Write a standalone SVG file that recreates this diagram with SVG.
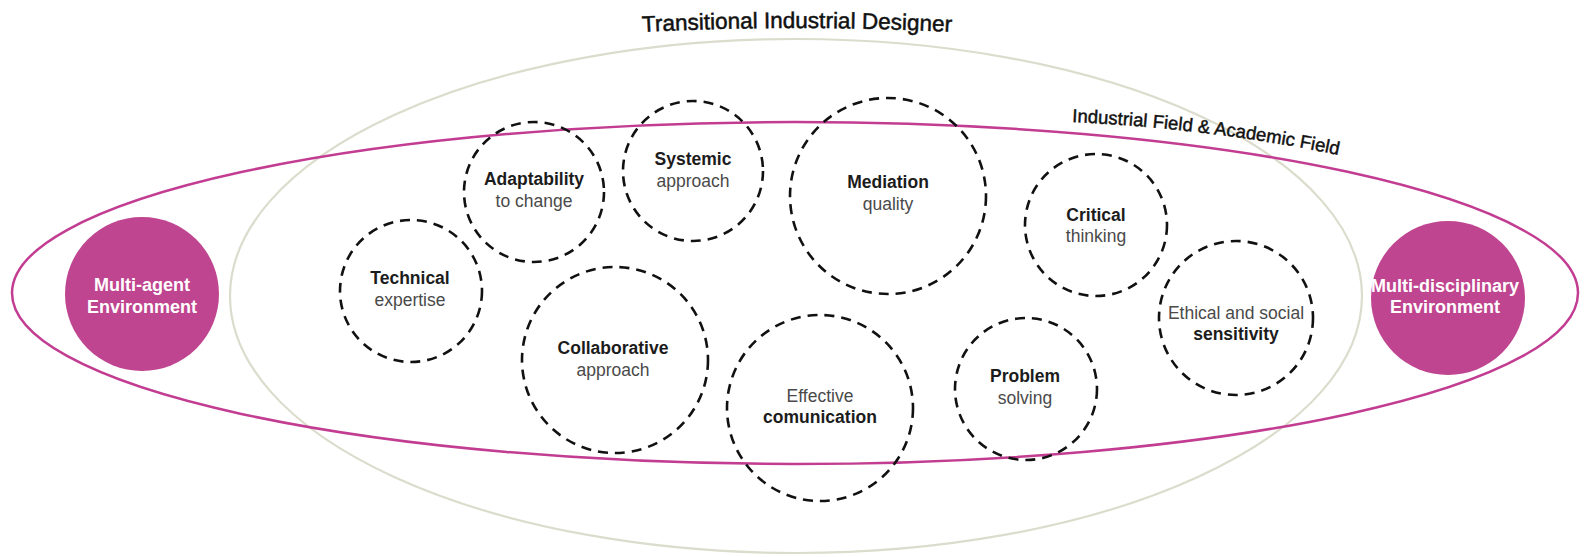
<svg xmlns="http://www.w3.org/2000/svg" width="1588" height="557" viewBox="0 0 1588 557">
  <style>
    text { font-family: "Liberation Sans", Arial, sans-serif; }
    .skill { fill: none; stroke: #111; stroke-width: 2.6; stroke-dasharray: 10 7; }
    .env { fill: #bf4590; }
    .env-label { fill: #ffffff; font-size: 18px; font-weight: bold; text-anchor: middle; }
    .b { fill: #1c1c1c; font-size: 17.5px; font-weight: bold; text-anchor: middle; }
    .r { fill: #4a4a4a; font-size: 17.5px; text-anchor: middle; }
    .field-label { fill: #111; stroke: #111; stroke-width: 0.45; font-size: 18.5px; }
    .title { fill: #111; stroke: #111; stroke-width: 0.5; font-size: 22.5px; }
  </style>
  <defs>
    <path id="titleArc" d="M 590 35 Q 797 21 1004 35"/>
    <path id="fieldArc" d="M 1072 122 Q 1222 129 1362 160"/>
  </defs>

  <rect width="1588" height="557" fill="#ffffff"/>

  <!-- outer regions -->
  <g id="designer-region">
    <ellipse cx="796" cy="296" rx="566" ry="257" fill="none" stroke="#dcdccd" stroke-width="2.2"/>
    <text class="title"><textPath href="#titleArc" startOffset="50%" text-anchor="middle">Transitional Industrial Designer</textPath></text>
  </g>
  <g id="field-region">
    <ellipse cx="795" cy="293" rx="783" ry="171" fill="none" stroke="#c23d92" stroke-width="2.5"/>
    <text class="field-label"><textPath href="#fieldArc">Industrial Field &amp; Academic Field</textPath></text>
  </g>

  <!-- environments -->
  <g id="multi-agent">
    <circle class="env" cx="142" cy="294" r="77"/>
    <text class="env-label" x="142" y="291">Multi-agent</text>
    <text class="env-label" x="142" y="313">Environment</text>
  </g>
  <g id="multi-disciplinary">
    <circle class="env" cx="1448" cy="298" r="77"/>
    <text class="env-label" x="1445" y="292">Multi-disciplinary</text>
    <text class="env-label" x="1445" y="313">Environment</text>
  </g>

  <!-- competences -->
  <g id="technical">
    <circle class="skill" cx="411" cy="291" r="71"/>
    <text class="b" x="410" y="284">Technical</text>
    <text class="r" x="410" y="306">expertise</text>
  </g>
  <g id="adaptability">
    <circle class="skill" cx="534" cy="192" r="70"/>
    <text class="b" x="534" y="185">Adaptability</text>
    <text class="r" x="534" y="207">to change</text>
  </g>
  <g id="systemic">
    <circle class="skill" cx="693" cy="171" r="70"/>
    <text class="b" x="693" y="165">Systemic</text>
    <text class="r" x="693" y="187">approach</text>
  </g>
  <g id="mediation">
    <circle class="skill" cx="888" cy="196" r="98"/>
    <text class="b" x="888" y="188">Mediation</text>
    <text class="r" x="888" y="210">quality</text>
  </g>
  <g id="critical">
    <circle class="skill" cx="1096" cy="225" r="71"/>
    <text class="b" x="1096" y="221">Critical</text>
    <text class="r" x="1096" y="242">thinking</text>
  </g>
  <g id="ethical">
    <circle class="skill" cx="1236" cy="318" r="77"/>
    <text class="r" x="1236" y="319">Ethical and social</text>
    <text class="b" x="1236" y="340">sensitivity</text>
  </g>
  <g id="collaborative">
    <circle class="skill" cx="615" cy="360" r="93"/>
    <text class="b" x="613" y="354">Collaborative</text>
    <text class="r" x="613" y="376">approach</text>
  </g>
  <g id="communication">
    <circle class="skill" cx="820" cy="408" r="93"/>
    <text class="r" x="820" y="402">Effective</text>
    <text class="b" x="820" y="423">comunication</text>
  </g>
  <g id="problem">
    <circle class="skill" cx="1026" cy="389" r="71"/>
    <text class="b" x="1025" y="382">Problem</text>
    <text class="r" x="1025" y="404">solving</text>
  </g>
</svg>
